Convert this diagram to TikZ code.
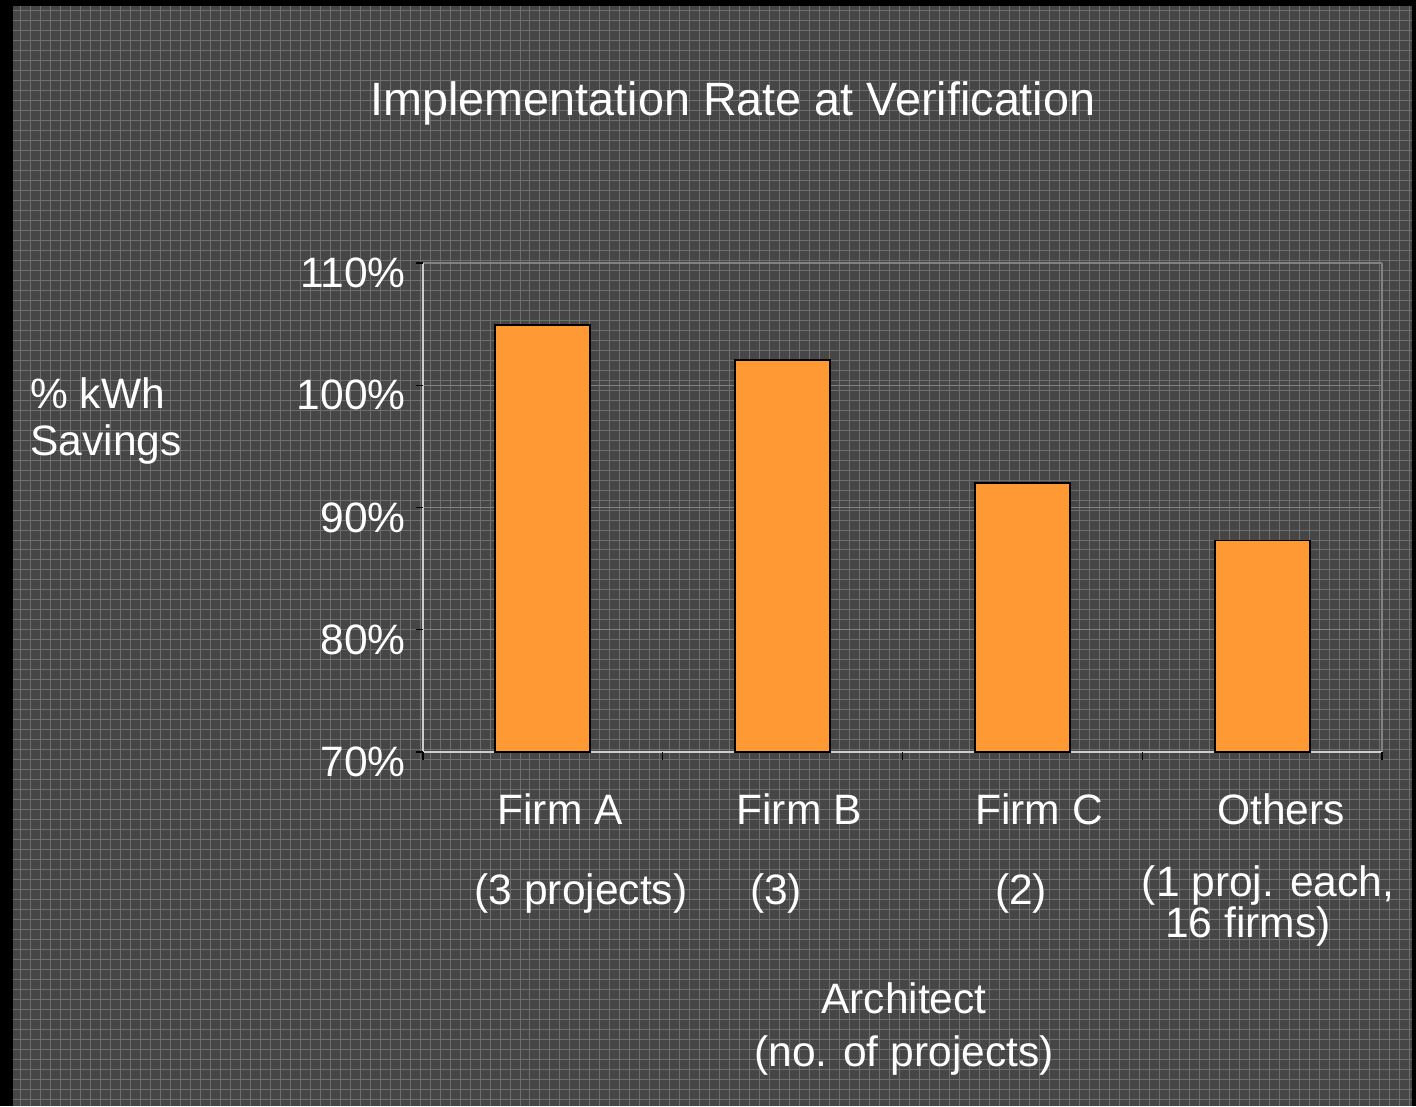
\documentclass[tikz,border=0pt]{standalone}
\usepackage{fontspec}
\setmainfont{Liberation Sans}
\usetikzlibrary{positioning}
\definecolor{barorange}{RGB}{255,153,51}
\definecolor{bgdark}{RGB}{70,70,70}
\definecolor{bggrid}{RGB}{110,110,110}
\definecolor{plotline}{RGB}{130,130,130}
\definecolor{axisgray}{RGB}{205,205,205}

\begin{document}
\begin{tikzpicture}[x=0.02cm,y=-0.02cm,
  lbl/.style={text=white,font=\fontsize{24.2}{27}\selectfont,inner sep=0pt},
  ttl/.style={lbl,font=\fontsize{26.6}{32}\selectfont},
  bar/.style={draw=black,line width=1.1pt,fill=barorange},
  tck/.style={draw=black,line width=0.7pt}
]
\useasboundingbox (0,0) rectangle (1416,1106);

% Background
\fill[black] (0,0) rectangle (1416,1106);
\fill[bgdark] (13,6) rectangle (1412,1106);
\draw[bggrid,line width=0.45pt,step=0.2cm] (13,6) grid (1412,1106);

% Title
\node[ttl] (title) at (733,103) {Implementation Rate at Verification};

% Plot area: 70% at y=752, 10% = 122.25px
\def\ybot{752}
\def\ystep{12.225}
\foreach \v in {80,90,100,110} {
  \pgfmathsetmacro\yy{\ybot-(\v-70)*\ystep}
  \draw[plotline,line width=0.8pt] (423,\yy) -- (1382,\yy);
}
\draw[plotline,line width=0.8pt] (1382,752) -- (1382,263);
\draw[axisgray,line width=0.8pt] (423,263) -- (423,752) -- (1382,752);

% Y ticks and labels
\foreach \v in {70,80,90,100,110} {
  \pgfmathsetmacro\yy{\ybot-(\v-70)*\ystep}
  \draw[tck] (416,\yy) -- (423,\yy);
  \node[lbl,anchor=east] (y\v) at (406,\yy+10) {\v\%};
}

% X ticks at category edges
\foreach \i in {0,...,4} {
  \draw[tck] (423+\i*239.75,752) -- (423+\i*239.75,760);
}

% Bars
\foreach \i/\v in {0/104.9,1/102.1,2/92.0,3/87.3} {
  \pgfmathsetmacro\xc{423+(\i+0.5)*239.75}
  \pgfmathsetmacro\yy{\ybot-(\v-70)*\ystep}
  \draw[bar] (\xc-47.5,\ybot) rectangle (\xc+47.5,\yy);
}

% Category labels
\node[lbl] (firma) at (560,809) {Firm A};
\node[lbl] (firmb) at (799,809) {Firm B};
\node[lbl] (firmc) at (1039,809) {Firm C};
\node[lbl] (others) at (1281,809) {Others};
\node[lbl] (numa) at (581,893) {(3 projects)};
\node[lbl] (numb) at (776,893) {(3)};
\node[lbl] (numc) at (1021,893) {(2)};
\node[lbl,align=left,font=\fontsize{24.2}{21.6}\selectfont] (numo) at (1268,906) {(1 proj. each,\\\hspace{0.55em}16 firms)};

% Axis titles
\node[lbl,align=left,anchor=west,font=\fontsize{24.2}{27.3}\selectfont] (ylab) at (30,421) {\% kWh\\Savings};
\node[lbl,align=center,font=\fontsize{24.2}{30.6}\selectfont] (xlab) at (904,1029) {Architect\\(no. of projects)};

\end{tikzpicture}
\end{document}
